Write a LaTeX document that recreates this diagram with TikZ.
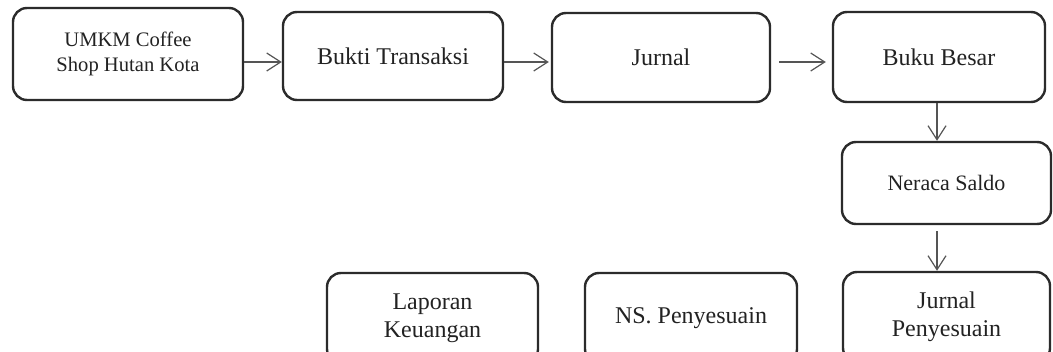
\documentclass[tikz,border=0pt]{standalone}
\usepackage{fontspec}
\setmainfont{Liberation Serif}
\usetikzlibrary{arrows.meta}
\definecolor{ln}{HTML}{2B2B2B}
\definecolor{ar}{HTML}{555555}
\definecolor{tx}{HTML}{222222}
\begin{document}
\begin{tikzpicture}[x=0.5pt,y=-0.5pt,
  box/.style={draw=ln, line width=1.2pt, rounded corners=7pt, inner sep=0pt, text=tx, align=center, font=\fontsize{12}{14}\selectfont},
  arr/.style={draw=ar, line width=0.6pt, -{Straight Barb[length=7pt,width=9pt]}}]
\useasboundingbox (0,0) rectangle (1053,352);
\clip (0,0) rectangle (1053,352);
% top row
\node[box, minimum width=115pt, minimum height=46pt, font=\fontsize{10.3}{12.5}\selectfont] (umkm) at (128,54) {UMKM Coffee\\Shop Hutan Kota};
\node[box, minimum width=110pt, minimum height=44pt] (bukti) at (393,56) {Bukti Transaksi};
\node[box, minimum width=109pt, minimum height=44.5pt] (jurnal) at (661,57.5) {Jurnal};
\node[box, minimum width=106pt, minimum height=45pt] (buku) at (939,57) {Buku Besar};
% right column
\node[box, minimum width=104.5pt, minimum height=41pt, font=\fontsize{11}{12}\selectfont] (neraca) at (946.5,183) {Neraca Saldo};
\node[box, minimum width=103.5pt, minimum height=45pt] (jp) at (946.5,317) {Jurnal\\Penyesuain};
% bottom row
\node[box, minimum width=105.5pt, minimum height=45pt] (lap) at (432.5,318) {Laporan\\Keuangan};
\node[box, minimum width=106pt, minimum height=45pt] (ns) at (691,318) {NS. Penyesuain};
% connectors
\draw[arr] ([yshift=-4pt]umkm.east) -- ([yshift=-3pt]bukti.west);
\draw[arr] ([yshift=-3pt]bukti.east) -- ([xshift=-1pt,yshift=-2.25pt]jurnal.west);
\draw[arr] ([xshift=4pt,yshift=-2.25pt]jurnal.east) -- ([xshift=-3pt,yshift=-2.5pt]buku.west);
\draw[arr] ([xshift=-1pt]buku.south) -- ([xshift=-1pt]buku.south |- neraca.north);
\draw[arr] ([xshift=-4.75pt,yshift=-3pt]neraca.south) -- ([xshift=-4.75pt]neraca.south |- jp.north);
\end{tikzpicture}
\end{document}
